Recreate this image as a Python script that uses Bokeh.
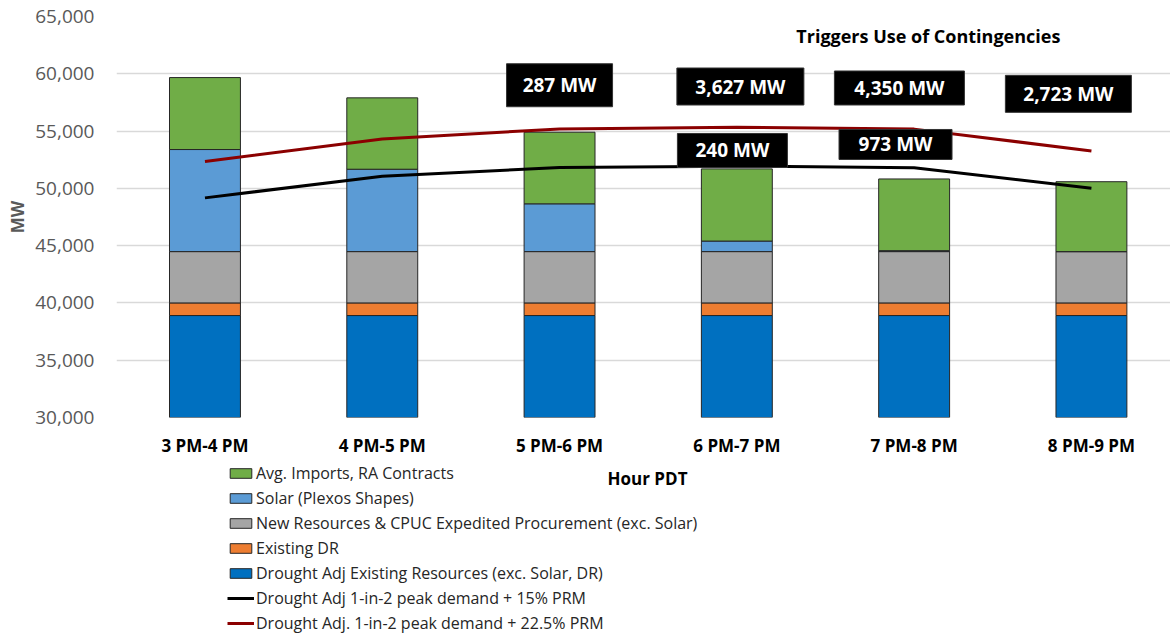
from bokeh.plotting import figure
from bokeh.models import (ColumnDataSource, FixedTicker, Legend, LegendItem, Label,
                          NumeralTickFormatter, Range1d)
from bokeh.layouts import column
from bokeh.core.properties import value
from bokeh.embed import file_html
from bokeh.resources import INLINE

# ---------------- data ----------------
hours = ["3 PM-4 PM", "4 PM-5 PM", "5 PM-6 PM", "6 PM-7 PM", "7 PM-8 PM", "8 PM-9 PM"]
existing = [38900, 38900, 38900, 38900, 38900, 38900]
existing_dr = [1100, 1100, 1100, 1100, 1100, 1100]
new_resources = [4480, 4480, 4480, 4480, 4480, 4480]
solar = [8910, 7190, 4170, 920, 80, 0]
imports = [6280, 6230, 6250, 6300, 6260, 6100]
demand_15 = [49170, 51060, 51820, 51940, 51790, 50010]
demand_225 = [52340, 54300, 55190, 55330, 55170, 53270]

shortfall_texts = ["287 MW", "3,627 MW", "240 MW", "4,350 MW", "973 MW", "2,723 MW"]
note_text = "Triggers Use of Contingencies"

series_names = ["Drought Adj Existing Resources (exc. Solar, DR)", "Existing DR",
                "New Resources & CPUC Expedited Procurement (exc. Solar)",
                "Solar (Plexos Shapes)", "Avg. Imports, RA Contracts"]
line_names = ["Drought Adj 1-in-2 peak demand + 15% PRM",
              "Drought Adj. 1-in-2 peak demand + 22.5% PRM"]

# ---------------- styling / layout ----------------
FONT = "Open Sans"
colors = ["#0070C0", "#ED7D31", "#A5A5A5", "#5B9BD5", "#70AD47"]
keys = ["existing", "dr", "new", "solar", "imports"]
RED = "#8B0000"
OUTLINE = "#262626"

# annotation box positions (x in bar-index units, y in MW) and box sizes in px
box_x = [2.0, 3.02, 2.975, 3.917, 3.895, 4.87]
box_y = [59000, 58890, 53305, 58760, 53830, 58250]
box_w = [106, 127, 110, 130, 113, 126]
box_h = [43, 37, 34, 34, 30, 37]

xs = list(range(len(hours)))
src = ColumnDataSource(dict(x=xs, existing=existing, dr=existing_dr, new=new_resources,
                            solar=solar, imports=imports,
                            d15=demand_15, d225=demand_225))

W = 1170
LEFT = 116
p = figure(width=W, height=460, output_backend="svg", toolbar_location=None,
           x_range=Range1d(-0.499, 5.446), y_range=Range1d(30000, 65000),
           min_border_left=LEFT, min_border_right=0, min_border_top=16,
           min_border_bottom=43, outline_line_color=None)
p.background_fill_color = "white"
p.border_fill_color = "white"

bars = p.vbar_stack(keys, x="x", width=0.40, source=src, fill_color=colors,
                    line_color=OUTLINE, line_width=1)
p.line("x", "d15", source=src, line_color="#000000", line_width=3)
p.line("x", "d225", source=src, line_color=RED, line_width=3)

# grid
p.xgrid.grid_line_color = None
p.ygrid.grid_line_color = "#D9D9D9"
p.ygrid.grid_line_width = 1.5

# y axis
p.yaxis.ticker = FixedTicker(ticks=list(range(30000, 65001, 5000)))
p.yaxis.formatter = NumeralTickFormatter(format="0,0")
p.yaxis.axis_line_color = None
p.yaxis.major_tick_line_color = None
p.yaxis.minor_tick_line_color = None
p.yaxis.major_tick_in = 0
p.yaxis.major_tick_out = 0
p.yaxis.major_label_standoff = 22
p.yaxis.major_label_text_font = FONT
p.yaxis.major_label_text_font_size = "19px"
p.yaxis.major_label_text_color = "#595959"
p.yaxis.axis_label = "MW"
p.yaxis.axis_label_text_font = FONT
p.yaxis.axis_label_text_font_size = "17px"
p.yaxis.axis_label_text_font_style = "bold"
p.yaxis.axis_label_text_color = "#595959"
p.yaxis.axis_label_standoff = 3

# x axis
p.xaxis.ticker = FixedTicker(ticks=xs)
p.xaxis.major_label_overrides = {i: h for i, h in enumerate(hours)}
p.xaxis.axis_line_color = None
p.xaxis.major_tick_line_color = None
p.xaxis.minor_tick_line_color = None
p.xaxis.major_tick_in = 0
p.xaxis.major_tick_out = 0
p.xaxis.major_label_standoff = 16
p.xaxis.major_label_text_font = FONT
p.xaxis.major_label_text_font_size = "17px"
p.xaxis.major_label_text_font_style = "bold"
p.xaxis.major_label_text_color = "#000000"

# annotation boxes
bsrc = ColumnDataSource(dict(x=box_x, y=box_y, w=box_w, h=box_h, t=shortfall_texts))
p.rect("x", "y", width="w", height="h", width_units="screen", height_units="screen",
       source=bsrc, fill_color="black", line_color="#333333", line_width=1)
p.text("x", "y", text="t", source=bsrc, text_color="white", text_font=value(FONT),
       text_font_style="bold", text_font_size="19px", text_align="center",
       text_baseline="middle")

p.add_layout(Label(x=4.08, y=63340, text=note_text, text_font=FONT, text_font_size="18px",
                   text_font_style="bold", text_color="#000000", text_align="center",
                   text_baseline="middle"))

# ---------------- legend panel below ----------------
# frame of this panel is aligned with the main frame (x from LEFT to W, in page pixels)
H2 = 174
p2 = figure(width=W, height=H2, output_backend="svg", toolbar_location=None,
            x_range=Range1d(LEFT, W), y_range=Range1d(0, H2),
            x_axis_location=None, y_axis_location=None,
            min_border_left=LEFT, min_border_right=0, min_border_top=0,
            min_border_bottom=0, outline_line_color=None)
p2.grid.grid_line_color = None
p2.background_fill_color = "white"
p2.border_fill_color = "white"

# legend proxies: glyphs that draw nothing (NaN), used only for their legend swatches
nan = float("nan")
proxy_src = ColumnDataSource(dict(x=[nan], y=[nan]))
proxy_bars = [p2.vbar(x="x", top="y", width=1, source=proxy_src, fill_color=c,
                      line_color=OUTLINE, line_width=1) for c in colors]
proxy_l15 = p2.line("x", "y", source=proxy_src, line_color="#000000", line_width=3)
proxy_l225 = p2.line("x", "y", source=proxy_src, line_color=RED, line_width=3)

items = [LegendItem(label=series_names[4], renderers=[proxy_bars[4]]),
         LegendItem(label=series_names[3], renderers=[proxy_bars[3]]),
         LegendItem(label=series_names[2], renderers=[proxy_bars[2]]),
         LegendItem(label=series_names[1], renderers=[proxy_bars[1]]),
         LegendItem(label=series_names[0], renderers=[proxy_bars[0]]),
         LegendItem(label=line_names[0], renderers=[proxy_l15]),
         LegendItem(label=line_names[1], renderers=[proxy_l225])]
legend = Legend(items=items, location=(227 - LEFT, 0), orientation="vertical")
legend.background_fill_alpha = 0
legend.border_line_color = None
legend.padding = 0
legend.margin = 0
legend.spacing = 3
legend.glyph_width = 27
legend.glyph_height = 12
legend.label_height = 20
legend.label_standoff = 2
legend.label_text_font = FONT
legend.label_text_font_size = "16px"
legend.label_text_color = "#262626"
legend.label_text_baseline = "middle"
p2.add_layout(legend)

p2.add_layout(Label(x=647, y=H2 - 18, text="Hour PDT", text_font=FONT,
                    text_font_size="17px", text_font_style="bold", text_color="#000000",
                    text_align="center", text_baseline="middle"))

layout = column(p, p2, spacing=0)
open("out.html", "w").write(file_html(layout, INLINE))
